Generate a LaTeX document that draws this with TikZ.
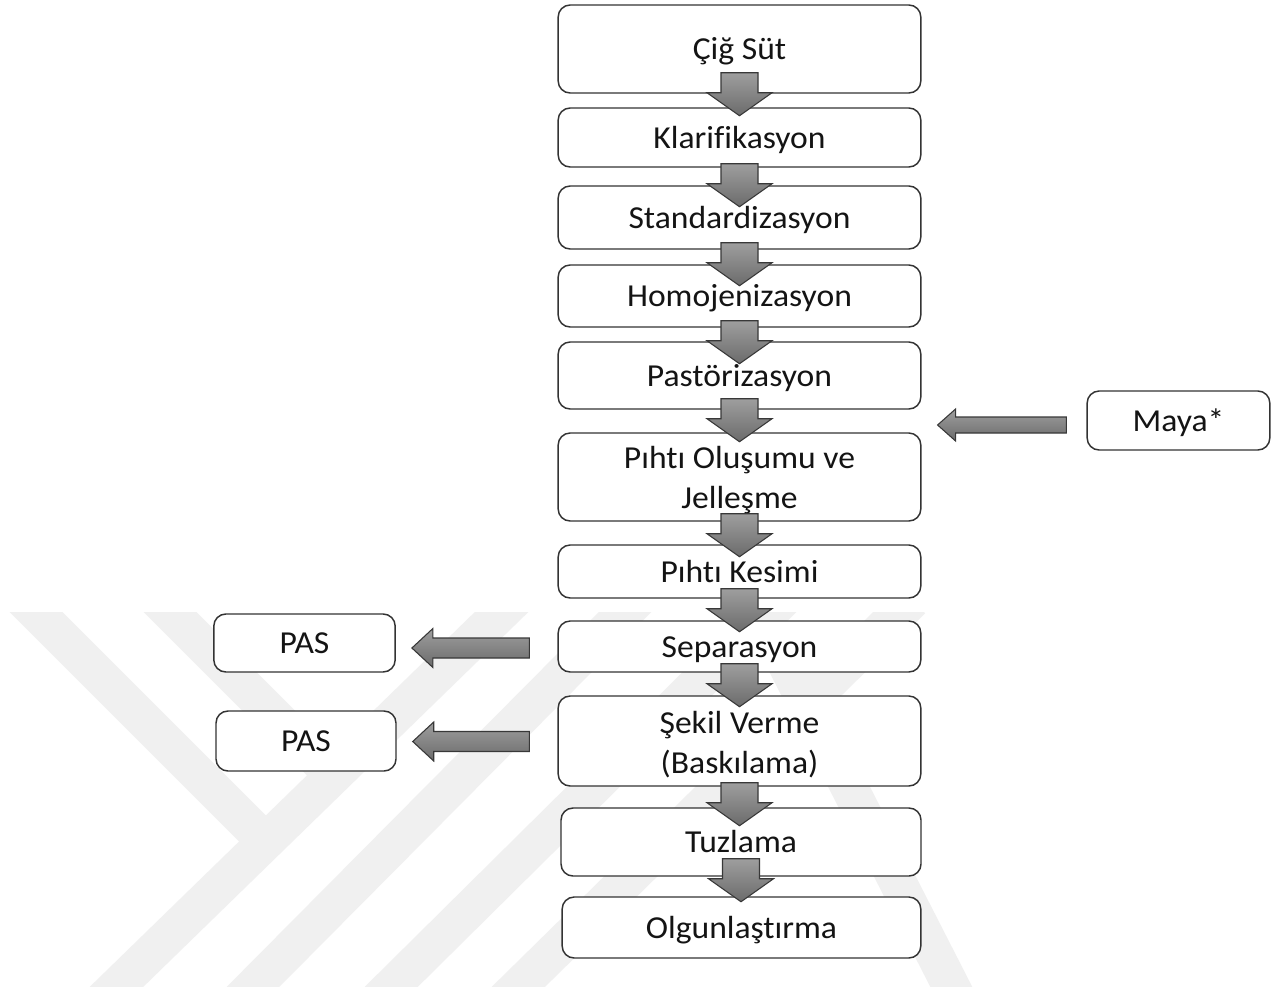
\documentclass[tikz,border=0pt]{standalone}
\usepackage{fontspec}
\setmainfont{Carlito}[FakeStretch=1.05,Ligatures=NoCommon]
\usetikzlibrary{calc}
\tikzset{
  flowbox/.style={draw=black!80, line width=1.1pt, rounded corners=9pt, fill=white,
    align=center, text=black!92, inner sep=0pt, font=\fontsize{24}{30}\selectfont},
  onebox/.style={flowbox, text height=18pt, text depth=2pt},
  flowarrow/.style={draw=black!78, line width=0.8pt, line join=miter,
    top color=black!38, bottom color=black!58},
  wm/.style={draw=black!6, line width=28pt, line cap=butt}
}
% #1 source, #2 target, #3 shaft start above source bottom (px)
\newcommand\downflow[3]{%
  \coordinate (m) at ([shift={(0,-#3)}]#1.south);
  \path (#2.north);
  \draw[flowarrow] ([shift={(-18.5,0)}]m) -- ([shift={(18.5,0)}]m) -- ([shift={(18.5,20)}]m)
    -- ([shift={(32.5,20)}]m) -- ([shift={(0,43)}]m) -- ([shift={(-32.5,20)}]m)
    -- ([shift={(-18.5,20)}]m) -- cycle;}
% #1 tail, #2 tip, #3 shaft half, #4 head half, #5 head length (px)
\newcommand\leftflow[5]{%
  \draw[flowarrow] ([shift={(0,-#3)}]#1) -- ([shift={(#5,-#3)}]#2) -- ([shift={(#5,-#4)}]#2)
    -- (#2) -- ([shift={(#5,#4)}]#2) -- ([shift={(#5,#3)}]#2) -- ([shift={(0,#3)}]#1) -- cycle;}
\newcommand\topstrut{\rule{0pt}{21.6pt}}
\begin{document}
\begin{tikzpicture}[x=0.75pt,y=-0.75pt]
\useasboundingbox (0,0) rectangle (1282,990);
\fill[white] (0,0) rectangle (1282,990);
% watermark
\begin{scope}
  \clip (0,612) rectangle (1282,986);
  \draw[wm] (0,576) -- (266,842);
  \draw[wm] (134,576) -- (334,776);
  \draw[wm] (103,1000) -- (517,597);
  \draw[wm] (240,1000) -- (640,597);
  \draw[wm] (378,1000) -- (785,597);
  \draw[wm] (505,1000) -- (912,600);
  \draw[wm] (752,597) -- (958,1000);
\end{scope}
% boxes
\node[onebox, minimum width=272pt, minimum height=66pt]   (b1)  at (739.5,49)    {Çiğ Süt};
\node[onebox, minimum width=272pt, minimum height=44.25pt](b2)  at (739.5,137.5) {Klarifikasyon};
\node[onebox, minimum width=272pt, minimum height=47.25pt](b3)  at (739.5,217.5) {Standardizasyon};
\node[onebox, minimum width=272pt, minimum height=46.5pt] (b4)  at (739.5,296)   {Homojenizasyon};
\node[onebox, minimum width=272pt, minimum height=50.25pt](b5)  at (739.5,375.5) {Pastörizasyon};
\node[flowbox, minimum width=272pt, minimum height=66pt]  (b6)  at (739.5,477)   {\topstrut Pıhtı Oluşumu ve\\Jelleşme};
\node[onebox, minimum width=272pt, minimum height=39.75pt](b7)  at (739.5,571.5) {Pıhtı Kesimi};
\node[onebox, minimum width=272pt, minimum height=38.25pt](b8)  at (739.5,646.5) {Separasyon};
\node[flowbox, minimum width=272pt, minimum height=67.5pt](b9)  at (739.5,741)   {\topstrut Şekil Verme\\(Baskılama)};
\node[onebox, minimum width=270pt, minimum height=51pt]   (b10) at (741,842)     {Tuzlama};
\node[onebox, minimum width=269pt, minimum height=45.75pt](b11) at (741.5,927.5) {Olgunlaştırma};
\node[onebox, minimum width=137pt, minimum height=44.25pt](maya) at (1178.5,420.5) {Maya*};
\node[onebox, minimum width=136pt, minimum height=43.5pt] (pas1) at (304.5,643)  {PAS};
\node[onebox, minimum width=135pt, minimum height=45pt]   (pas2) at (306,741)    {PAS};
% down arrows
\downflow{b1}{b2}{21}
\downflow{b2}{b3}{4}
\downflow{b3}{b4}{7}
\downflow{b4}{b5}{7}
\downflow{b5}{b6}{11}
\downflow{b6}{b7}{8}
\downflow{b7}{b8}{10}
\downflow{b8}{b9}{9}
\downflow{b9}{b10}{4}
\downflow{b10}{b11}{18}
% side arrows
\coordinate (t1) at ([shift={(-20,4.5)}]maya.west);
\coordinate (e1) at ([shift={(16,0)}]b6.east);
\coordinate (h1) at (e1 |- t1);
\leftflow{t1}{h1}{8}{16}{18}
\coordinate (t2) at ([shift={(-28,1.5)}]b8.west);
\coordinate (e2) at ([shift={(16,0)}]pas1.east);
\coordinate (h2) at (e2 |- t2);
\leftflow{t2}{h2}{10}{19.5}{21}
\coordinate (t3) at ([shift={(-28,0.5)}]b9.west);
\coordinate (e3) at ([shift={(16,0)}]pas2.east);
\coordinate (h3) at (e3 |- t3);
\leftflow{t3}{h3}{10}{19.5}{21}
\end{tikzpicture}
\end{document}
